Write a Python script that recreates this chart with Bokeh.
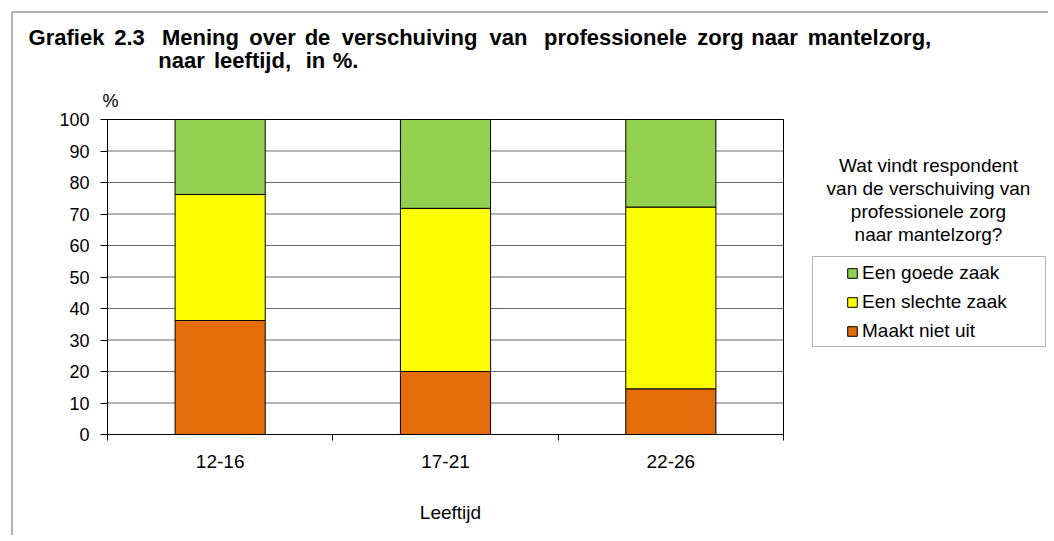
from bokeh.plotting import figure
from bokeh.models import (ColumnDataSource, Range1d, FixedTicker, Label, Legend,
                          LegendItem, BoxAnnotation)
from bokeh.embed import file_html
from bokeh.resources import INLINE

# ---------------- data ----------------
groups = ["12-16", "17-21", "22-26"]
maakt_niet_uit = [36.2, 20.0, 14.5]
een_slechte_zaak = [40.0, 51.8, 57.7]
een_goede_zaak = [23.8, 28.2, 27.8]
y_ticks = [0, 10, 20, 30, 40, 50, 60, 70, 80, 90, 100]

title_line1 = ["Grafiek", "2.3", "Mening", "over", "de", "verschuiving", "van",
               "professionele", "zorg", "naar", "mantelzorg,"]
title_line2 = ["naar", "leeftijd,", "in", "%."]
legend_title = ["Wat vindt respondent", "van de verschuiving van",
                "professionele zorg", "naar mantelzorg?"]
series_names = ["Een goede zaak", "Een slechte zaak", "Maakt niet uit"]
x_title = "Leeftijd"
y_unit = "%"

# ---------------- layout ----------------
FONT = "Liberation Sans"
W, H = 1048, 535
FL, FR, FT, FB = 107, 783, 119, 434   # plot-area edges in pixels
N = len(groups)
YMAX = 100.0

# horizontal centres (px) of the title words, spread as in the original
title1_cx = [66, 129, 200, 272, 317, 409, 508, 615, 720, 774, 869]
title2_cx = [181, 252, 315, 345]


def px2x(px):
    return (px - FL) * N / (FR - FL)


def py2y(py):
    return (FB - py) * YMAX / (FB - FT)


# the frame covers the whole canvas; the axes are pinned at the plot area
p = figure(width=W, height=H, output_backend="svg", toolbar_location=None,
           x_range=Range1d(px2x(0), px2x(W)), y_range=Range1d(py2y(H), py2y(0)),
           min_border_left=0, min_border_right=0, min_border_top=0,
           min_border_bottom=0, background_fill_color="white",
           border_fill_color="white")
p.title.visible = False
p.outline_line_color = None
p.xgrid.visible = False
p.ygrid.visible = False

centers = [i + 0.5 for i in range(N)]

# horizontal gridlines over the plot area
p.segment(x0=[0] * len(y_ticks), x1=[N] * len(y_ticks), y0=y_ticks, y1=y_ticks,
          line_color="#6a6a6a", line_width=1)
# plot-area outline
p.quad(left=[0], right=[N], bottom=[0], top=[YMAX], fill_color=None,
       line_color="black", line_width=1)

src = ColumnDataSource(dict(x=centers, orange=maakt_niet_uit,
                            yellow=een_slechte_zaak, green=een_goede_zaak))
rs = p.vbar_stack(["orange", "yellow", "green"], x="x", width=0.4, source=src,
                  fill_color=["#E46C0A", "#FFFF00", "#92D050"],
                  line_color="black", line_width=1)

# axes, pinned at x=0 / y=0
xa = p.xaxis[0]
xa.fixed_location = 0
xa.bounds = (0, N)
xa.ticker = FixedTicker(ticks=centers, minor_ticks=list(range(N + 1)))
xa.major_label_overrides = {c: g for c, g in zip(centers, groups)}
xa.major_tick_out = 0
xa.major_tick_in = 0
xa.minor_tick_out = 6
xa.minor_tick_in = 0
xa.minor_tick_line_color = "black"
xa.axis_line_color = "black"
xa.major_label_standoff = 14
xa.major_label_text_font = FONT
xa.major_label_text_font_size = "19px"
xa.major_label_text_color = "black"

ya = p.yaxis[0]
ya.fixed_location = 0
ya.bounds = (0, YMAX)
ya.ticker = FixedTicker(ticks=y_ticks)
ya.major_tick_out = 7
ya.major_tick_in = 0
ya.minor_tick_line_color = None
ya.axis_line_color = "black"
ya.major_tick_line_color = "black"
ya.major_label_standoff = 11
ya.major_label_text_font = FONT
ya.major_label_text_font_size = "18px"
ya.major_label_text_color = "black"

# outer frame of the figure
p.add_layout(BoxAnnotation(left=px2x(11.5), right=px2x(1300), top=py2y(11.5),
                           bottom=py2y(800), fill_color=None, fill_alpha=0,
                           line_color="black", line_width=2))

# title (bold, widely spaced words)
for t, cx in zip(title_line1, title1_cx):
    p.add_layout(Label(x=px2x(cx), y=py2y(37), text=t, text_font=FONT,
                       text_font_size="22px", text_font_style="bold",
                       text_baseline="middle", text_align="center",
                       text_color="black"))
for t, cx in zip(title_line2, title2_cx):
    p.add_layout(Label(x=px2x(cx), y=py2y(60), text=t, text_font=FONT,
                       text_font_size="22px", text_font_style="bold",
                       text_baseline="middle", text_align="center",
                       text_color="black"))

# "%" unit label and x-axis title
p.add_layout(Label(x=px2x(110), y=py2y(100), text=y_unit, text_font=FONT,
                   text_font_size="18px", text_baseline="middle",
                   text_align="center", text_color="black"))
p.add_layout(Label(x=px2x(450), y=py2y(512), text=x_title, text_font=FONT,
                   text_font_size="19px", text_baseline="middle",
                   text_align="center", text_color="black"))

# legend title
for i, t in enumerate(legend_title):
    p.add_layout(Label(x=px2x(928), y=py2y(165 + 23 * i), text=t, text_font=FONT,
                       text_font_size="19px", text_baseline="middle",
                       text_align="center", text_color="black"))

# legend box
p.add_layout(BoxAnnotation(left=px2x(812), right=px2x(1045), top=py2y(256),
                           bottom=py2y(346), fill_color=None, fill_alpha=0,
                           line_color="black", line_width=1))

legend = Legend(items=[LegendItem(label=series_names[0], renderers=[rs[2]]),
                       LegendItem(label=series_names[1], renderers=[rs[1]]),
                       LegendItem(label=series_names[2], renderers=[rs[0]])],
                location=(846, H - 342), orientation="vertical",
                padding=0, margin=0, spacing=7, glyph_width=12, glyph_height=12,
                label_height=22, label_standoff=4, border_line_color=None,
                background_fill_alpha=0, label_text_font=FONT,
                label_text_font_size="19px", label_text_color="black")
p.add_layout(legend)

open("out.html", "w").write(file_html(p, INLINE))
